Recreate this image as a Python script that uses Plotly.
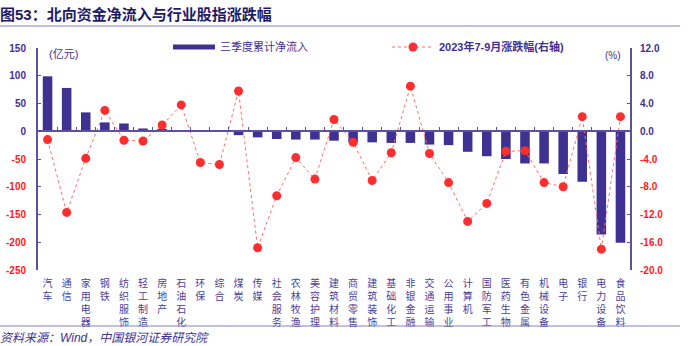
import plotly.graph_objects as go

categories = ["汽车", "通信", "家用电器", "钢铁", "纺织服饰", "轻工制造", "房地产", "石油石化",
              "环保", "综合", "煤炭", "传媒", "社会服务", "农林牧渔", "美容护理", "建筑材料",
              "商贸零售", "建筑装饰", "基础化工", "非银金融", "交通运输", "公用事业", "计算机",
              "国防军工", "医药生物", "有色金属", "机械设备", "电子", "银行", "电力设备", "食品饮料"]

net_inflow = [99, 78, 34, 16, 14, 5, 4, 2, 1.5, 1, -7, -11, -14, -15, -15, -17,
              -20, -20, -21, -21, -24, -25, -37, -45, -50, -58, -58, -77, -91, -186, -201]

pct_change = [-1.2, -11.7, -3.9, 3.0, -1.3, -1.4, 0.9, 3.8, -4.5, -4.8, 5.8, -16.8,
              -9.3, -3.8, -6.9, 1.7, -1.6, -7.1, -3.1, 6.5, -3.2, -7.4, -13.0, -10.4,
              -2.9, -2.8, -7.4, -8.0, 2.1, -17.0, 2.1]

left_ticks = [150, 100, 50, 0, -50, -100, -150, -200, -250]
right_ticks = [12, 8, 4, 0, -4, -8, -12, -16, -20]

bar_name = "三季度累计净流入"
line_name = "2023年7-9月涨跌幅(右轴)"
title_text = "图53：北向资金净流入与行业股指涨跌幅"
source_text = "资料来源：Wind，中国银河证券研究院"

NAVY = "#3f3192"
AXIS = "#5b4fa8"
RED = "#ff2e2e"
PINK = "#ff6b6b"
FONT = "Liberation Sans, Noto Sans CJK SC"


def tick_label(v, fmt):
    s = fmt.format(v)
    if v < 0:
        return "<span style='color:#ff1a1a'>" + s + "</span>"
    return s


vert_labels = ["<br>".join(list(c)) for c in categories]
n = len(categories)

fig = go.Figure()
fig.add_trace(go.Bar(x=vert_labels, y=net_inflow, marker=dict(color=NAVY, line=dict(width=0)),
                     name=bar_name, showlegend=False, xaxis="x", yaxis="y"))
# legend proxy for the bar series (wide thick line symbol)
fig.add_trace(go.Scatter(x=[vert_labels[0]], y=[None], mode="lines", name=bar_name,
                         line=dict(color=NAVY, width=5), xaxis="x", yaxis="y"))
fig.add_trace(go.Scatter(x=vert_labels, y=pct_change, mode="lines+markers",
                         name="<b>" + line_name + "</b>",
                         line=dict(color=PINK, width=1, dash="dot"),
                         marker=dict(color=RED, size=9),
                         xaxis="x2", yaxis="y2"))

fig.update_layout(
    template="none",
    width=689, height=346,
    margin=dict(l=38, r=59, t=48, b=76, autoexpand=False),
    paper_bgcolor="white", plot_bgcolor="white",
    font=dict(family=FONT, color=NAVY, size=10),
    bargap=0.5,
    showlegend=True,
    legend=dict(orientation="h", x=(168 - 38) / 592, y=(270 - 47) / 222,
                xanchor="left", yanchor="middle", itemwidth=42, entrywidth=162,
                entrywidthmode="pixels",
                font=dict(size=11, color=NAVY, family=FONT), bgcolor="rgba(0,0,0,0)",
                traceorder="normal", itemclick=False),
    xaxis=dict(domain=[0, 1], range=[-0.5, n - 0.5], showline=False, ticks="",
               showgrid=False, zeroline=False,
               tickfont=dict(size=10, color="#4b3f9a", family=FONT), tickangle=0,
               ticklabelstandoff=6, automargin=False),
    xaxis2=dict(overlaying="x", matches="x", anchor="free", position=250 / 400,
                showline=True, linecolor=AXIS, linewidth=2, ticks="inside",
                tickson="boundaries", ticklen=3, tickcolor=AXIS, tickwidth=1,
                showticklabels=False, showgrid=False, zeroline=False, automargin=False),
    yaxis=dict(range=[-250, 150], tickvals=left_ticks,
               ticktext=[tick_label(v, "{:d}") for v in left_ticks],
               showline=True, linecolor=AXIS, linewidth=2, ticks="inside", ticklen=3,
               tickcolor=AXIS, showgrid=False, zeroline=False, automargin=False,
               tickfont=dict(size=10, color=NAVY, family="Liberation Sans", weight="bold"),
               ticklabelstandoff=8),
    yaxis2=dict(range=[-20, 12], tickvals=right_ticks,
                ticktext=[tick_label(v, "{:.1f}") for v in right_ticks],
                overlaying="y", side="right", anchor="x", automargin=False,
                showline=True, linecolor=AXIS, linewidth=2, ticks="inside", ticklen=3,
                tickcolor=AXIS, showgrid=False, zeroline=False,
                tickfont=dict(size=10, color=NAVY, family="Liberation Sans", weight="bold"),
                ticklabelstandoff=6),
)

px = lambda v: (v - 38) / 592
py = lambda v: (270 - v) / 222

fig.add_annotation(text="<b>" + title_text + "</b>", xref="paper", yref="paper",
                   x=px(-2), y=py(15), xanchor="left", yanchor="middle", showarrow=False,
                   font=dict(size=15, color="#1f1a66", family=FONT))
fig.add_annotation(text="(亿元)", xref="paper", yref="paper", x=px(47), y=py(54),
                   xanchor="left", yanchor="middle", showarrow=False,
                   font=dict(size=11, color=NAVY, family=FONT))
fig.add_annotation(text="(%)", xref="paper", yref="paper", x=px(623), y=py(56),
                   xanchor="right", yanchor="middle", showarrow=False,
                   font=dict(size=10, color=NAVY, family=FONT))
fig.add_annotation(text="<i>" + source_text + "</i>", xref="paper", yref="paper",
                   x=px(-2), y=py(338), xanchor="left", yanchor="middle", showarrow=False,
                   font=dict(size=12, color=NAVY, family=FONT))

fig.add_shape(type="line", xref="paper", yref="paper", x0=px(0), x1=px(680),
              y0=py(26), y1=py(26), line=dict(color="#8a80c4", width=1))
fig.add_shape(type="line", xref="paper", yref="paper", x0=px(0), x1=px(680),
              y0=py(326), y1=py(326), line=dict(color="#8a80c4", width=1))

fig.write_html("out.html")
